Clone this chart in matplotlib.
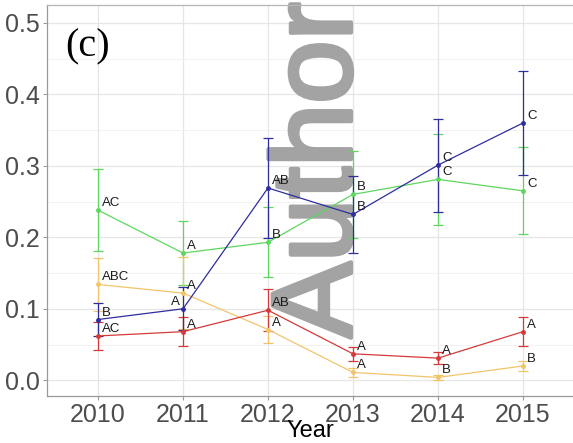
import matplotlib
matplotlib.use("Agg")
import matplotlib.pyplot as plt
from matplotlib.ticker import MultipleLocator
import matplotlib.patheffects as pe

years = [2010, 2011, 2012, 2013, 2014, 2015]

green_mean = [0.238, 0.178, 0.193, 0.260, 0.281, 0.265]
green_err = [0.057, 0.045, 0.049, 0.061, 0.064, 0.061]
green_labels = ["AC", "A", "B", "B", "C", "C"]

blue_mean = [0.085, 0.100, 0.269, 0.232, 0.301, 0.360]
blue_err = [0.023, 0.030, 0.070, 0.054, 0.065, 0.073]
blue_labels = ["B", "A", "AB", "B", "C", "C"]

orange_mean = [0.134, 0.122, 0.071, 0.011, 0.004, 0.020]
orange_err = [0.037, 0.050, 0.019, 0.006, 0.004, 0.007]
orange_labels = ["ABC", "A", "A", "A", "B", "B"]

red_mean = [0.062, 0.068, 0.098, 0.037, 0.031, 0.068]
red_err = [0.019, 0.020, 0.029, 0.010, 0.008, 0.020]
red_labels = ["AC", "A", "AB", "A", "A", "A"]

GREEN, ORANGE, RED, BLUE = "#5fd65f", "#f2c46a", "#d43a3a", "#2e2e9e"
series = [
    (green_mean, green_err, green_labels, GREEN),
    (orange_mean, orange_err, orange_labels, ORANGE),
    (red_mean, red_err, red_labels, RED),
    (blue_mean, blue_err, blue_labels, BLUE),
]

W, H = 573, 443
fig = plt.figure(figsize=(W / 100, H / 100), dpi=100)
ax = fig.add_axes([47 / W, (H - 396) / H, (574 - 47) / W, (396 - 5) / H])

ax.set_xlim(2009.4, 2015.6)
ax.set_ylim(-0.022, 0.525)

# grid
ax.yaxis.set_major_locator(MultipleLocator(0.1))
ax.yaxis.set_minor_locator(MultipleLocator(0.05))
ax.grid(True, which="major", color="#e6e6e6", linewidth=0.9, zorder=0)
ax.grid(True, which="minor", axis="y", color="#f0f0f0", linewidth=0.6, zorder=0)
ax.set_axisbelow(True)

for s in ax.spines.values():
    s.set_color("#b5b5b5")
    s.set_linewidth(0.9)
ax.spines["left"].set_color("#9a9a9a")
ax.spines["bottom"].set_color("#9a9a9a")

ax.set_xticks(years)
ax.set_xticklabels([str(y) for y in years], family="Liberation Sans")
ax.set_yticks([0.0, 0.1, 0.2, 0.3, 0.4, 0.5])
ax.set_yticklabels(["0.0", "0.1", "0.2", "0.3", "0.4", "0.5"], family="Liberation Sans")
ax.tick_params(axis="both", which="major", length=3, color="#9a9a9a",
               labelsize=18, labelcolor="#4d4d4d", pad=2)
ax.tick_params(axis="y", which="minor", length=0)

ax.set_xlabel("Year", family="Liberation Sans", fontsize=17, color="black")
ax.xaxis.set_label_coords(0.5, -0.062)

# watermark, behind the data but above the grid
ax.text(351 / W, (H - 338) / H, "Author", transform=fig.transFigure, rotation=90,
        rotation_mode="anchor", ha="left", va="baseline", fontsize=82,
        family="Liberation Sans", color="#a3a3a3", zorder=1.5, clip_on=False,
        path_effects=[pe.withStroke(linewidth=3, foreground="#a3a3a3")])

# series with error bars and letter groups
for mean, err, labels, color in series:
    ax.errorbar(years, mean, yerr=err, color=color, linewidth=0.9, elinewidth=0.9,
                capsize=3.5, capthick=0.9, marker="o", markersize=2.5, zorder=3)
    for x, y, t in zip(years, mean, labels):
        dx, dy = 4, 7
        if color == BLUE and x == 2011:
            dx = -12
        ax.annotate(t, (x, y), xytext=(dx, dy), textcoords="offset pixels",
                    ha="left", va="center", fontsize=9.5, family="Liberation Sans",
                    color="#1a1a1a", zorder=4)

ax.text(65 / W, (H - 47) / H, "(c)", transform=fig.transFigure, ha="left",
        va="center", fontsize=29, family="Liberation Serif", color="black")

fig.savefig("out.png", dpi=100)
